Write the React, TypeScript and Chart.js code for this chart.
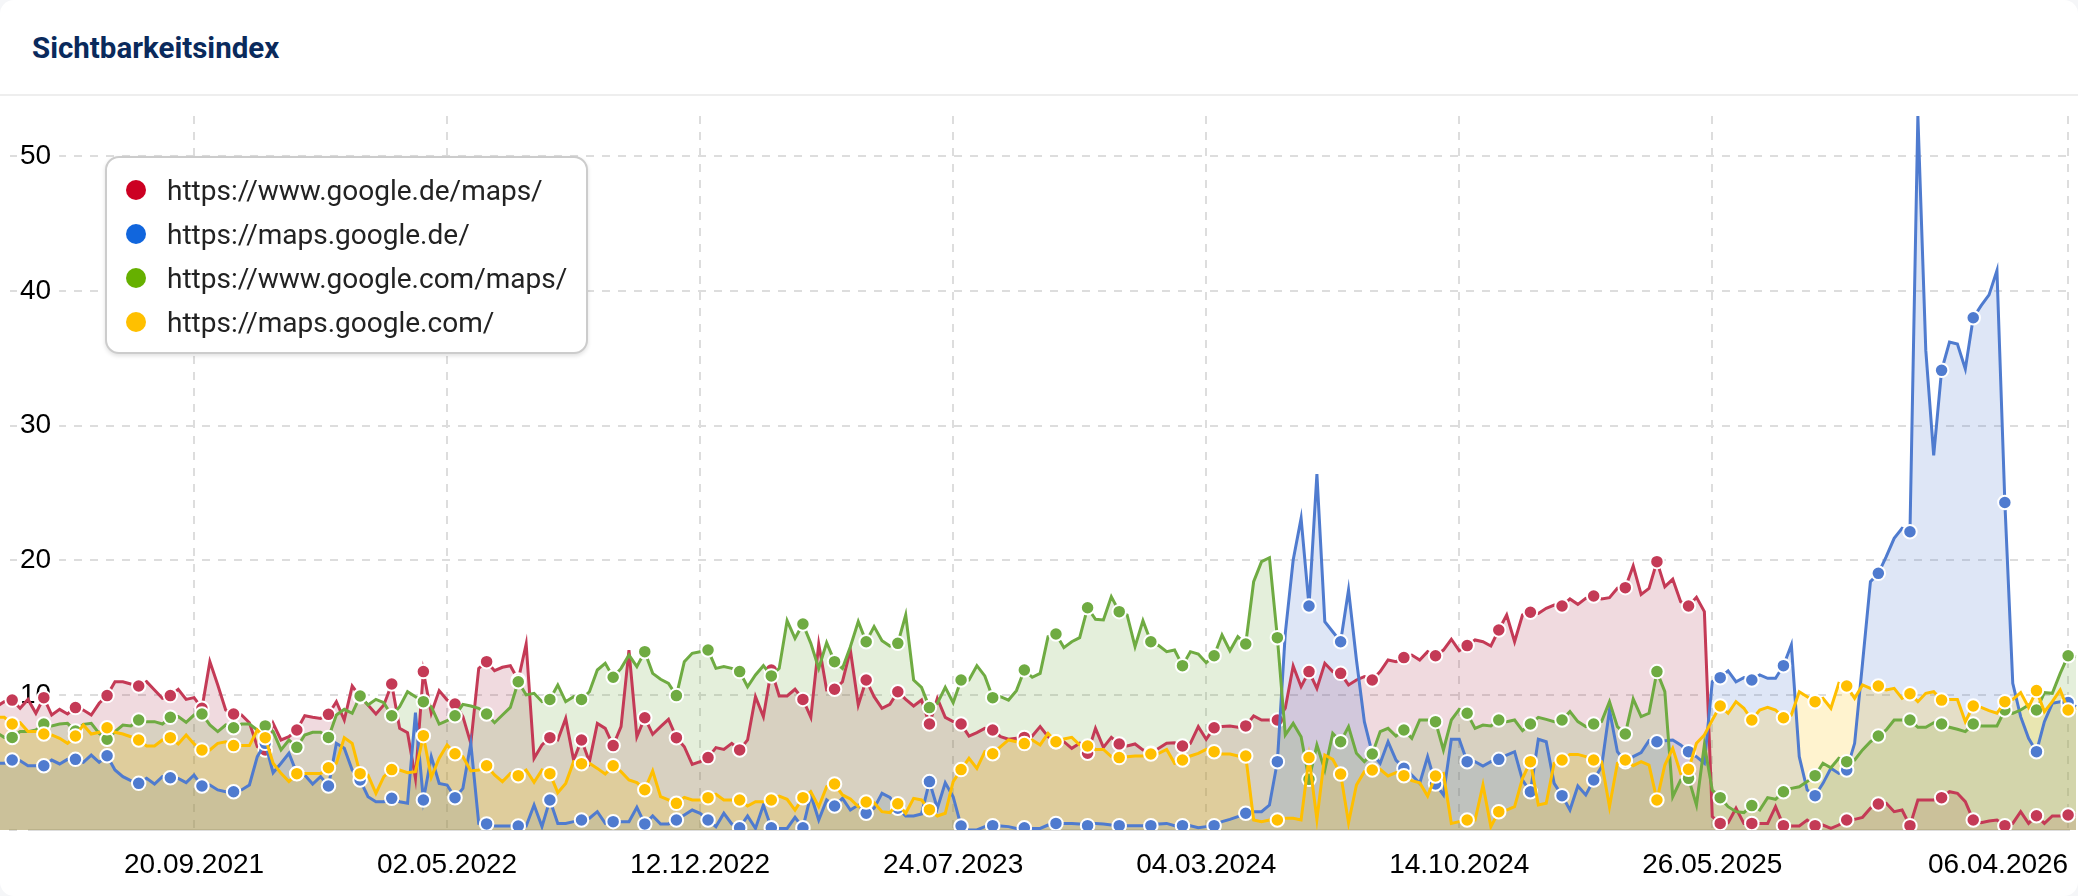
import React, { useEffect, useRef } from "react"
import { Chart, registerables } from "chart.js"

const title = "Sichtbarkeitsindex"
const seriesNames = ["https://www.google.de/maps/", "https://maps.google.de/", "https://www.google.com/maps/", "https://maps.google.com/"]
const legendColors = ["#cc0022", "#1166dd", "#66b000", "#ffc000"]
const lineColors = ["#c43a56", "#4f7bcf", "#6fab42", "#ffbf00"]
const fillColors = ["rgba(180,70,95,0.2)", "rgba(79,123,207,0.19)", "rgba(111,171,66,0.19)", "rgba(255,191,0,0.19)"]

// weeks since the start of the plot, one value a week
const tickWeeks = [25, 57, 89, 121, 153, 185, 217, 262]
const tickLabels = ["20.09.2021", "02.05.2022", "12.12.2022", "24.07.2023", "04.03.2024", "14.10.2024", "26.05.2025", "06.04.2026"]

const googleDeMaps = [
  9.15, 9.52, 9.64, 9.03, 9.69, 8.66, 9.82, 8.53, 8.95, 8.61, 9.08, 8.9, 8.53, 9.4, 9.97, 11, 11, 10.83, 10.68, 11, 10.39, 9.77, 9.97, 10.44, 9.69, 9.82, 9.03, 12.49, 10.76, 8.9, 8.61, 8.53, 7.96, 6.18, 5.94, 7.91, 6.68, 6.92, 7.42, 8.48, 8.36, 8.28, 8.58, 9.52, 8.16, 10.68, 9.89, 9.27, 8.61, 9.27, 10.83, 7.54, 7.22, 3.83, 11.75, 8.66, 10.34, 9.64, 9.35, 8.41, 6.43, 11.99, 12.49, 11.82, 12.07, 12.19,
  11.13, 13.8, 5.32, 6.31, 6.85, 6.68, 8.28, 5.19, 6.68, 5.07, 7.91, 7.54, 6.26, 7.67, 13.35, 6.92, 8.33, 7.1, 7.67, 8.21, 6.85, 6.18, 4.87, 5.07, 5.37, 6.11, 5.98, 6.43, 5.94, 6.68, 9.89, 8.41, 11.87, 9.94, 9.94, 10.44, 9.69, 8.36, 13.8, 10.39, 10.44, 11, 13.35, 9.27, 11.13, 9.89, 9.03, 9.32, 10.26, 9.69, 9.2, 9.64, 7.86, 9.77, 8.36, 8.04, 7.86, 6.97, 7.22, 7.54, 7.42, 6.92, 6.73, 6.8, 6.87, 6.97,
  7.67, 6.92, 6.55, 6.55, 6.06, 6.43, 5.69, 7.54, 6.13, 6.87, 6.38, 6.23, 6.38, 5.94, 5.69, 6.06, 6.43, 6.48, 6.23, 6.43, 7.67, 6.73, 7.59, 7.67, 7.72, 7.62, 7.72, 8.46, 8.16, 8.16, 8.16, 9.03, 12.17, 10.63, 11.75, 10.51, 12.37, 11.75, 11.62, 10.76, 11.13, 11.38, 11.13, 11.75, 12.61, 12.49, 12.79, 12.98, 12.61, 13.23, 12.93, 13.35, 14.15, 13.3, 13.68, 14.1, 13.97, 13.65, 14.84, 15.95, 13.97, 15.95, 16.15, 16.07, 16.45, 16.69,
  16.62, 17.14, 16.74, 17.19, 17.36, 17.14, 17.24, 17.93, 17.98, 19.59, 17.48, 17.93, 19.91, 18.05, 18.6, 16.94, 16.62, 17.26, 16.2, 0.99, 0.49, 0.54, 1.61, 0.49, 0.49, 0.49, 0.49, 1.73, 0.32, 0.3, 0.3, 0.74, 0.32, 0.37, 0.12, 0.37, 0.74, 0.79, 0.94, 1.61, 1.93, 1.98, 1.36, 1.48, 0.32, 2.23, 2.23, 2.23, 2.4, 2.84, 2.72, 2.1, 0.74, 0.54, 0.67, 0.74, 0.32, 0.49, 1.36, 0.49, 1.06, 0.49, 1.04, 1.04, 1.11, 1.11,
]
const mapsGoogleDe = [
  4.95, 4.95, 5.19, 5.14, 4.77, 4.77, 4.77, 5.19, 4.9, 5.24, 5.24, 5.02, 5.56, 5.02, 5.51, 4.45, 3.96, 3.66, 3.46, 3.83, 3.41, 3.96, 3.88, 3.83, 3.51, 4.08, 3.26, 3.34, 2.97, 2.84, 2.84, 2.97, 3.34, 5.44, 6.43, 4.25, 4.95, 5.69, 4.2, 4.08, 3.41, 3.96, 3.26, 6.43, 6.06, 4.45, 3.71, 2.47, 2.1, 2.1, 2.35, 2.1, 1.98, 8.7, 2.23, 5.44, 3.46, 3.34, 2.4, 3.09, 6.43, 0.49, 0.45, 0.3, 0.3, 0.3,
  0.3, 0.3, 1.85, 0.25, 2.23, 0.49, 0.49, 0.62, 0.74, 0.87, 1.36, 0.49, 0.62, 0.62, 0.62, 1.68, 0.45, 1.04, 0.45, 0.45, 0.74, 1.11, 1.48, 1.24, 0.74, 0.25, 1.24, 0.45, 0.17, 1.04, 0.12, 1.85, 0.17, 0.12, 0.12, 0.94, 0.17, 2.6, 0.74, 2.23, 1.78, 2.35, 1.48, 1.85, 1.24, 1.61, 2.72, 2.42, 1.61, 1.04, 1.04, 1.19, 3.59, 1.61, 3.51, 2.47, 0.3, 0, 0, 0.25, 0.32, 0.3, 0.25, 0.12, 0.17, 0.12,
  0.12, 0.37, 0.49, 0.49, 0.49, 0.45, 0.32, 0.49, 0.45, 0.37, 0.32, 0.32, 0.32, 0.32, 0.32, 0.45, 0.49, 0.32, 0.32, 0.32, 0.17, 0.25, 0.32, 0.62, 0.79, 0.99, 1.24, 1.36, 1.36, 1.85, 5.07, 14.59, 20.03, 23.12, 16.62, 26.4, 15.46, 14.71, 13.97, 17.81, 12.61, 8.04, 5.69, 4.95, 6.55, 5.19, 4.58, 4.08, 3.46, 5.44, 3.41, 2.6, 6.73, 6.73, 5.07, 5.07, 4.75, 5.07, 5.24, 5.56, 5.81, 3.71, 2.84, 6.73, 6.55, 3.46,
  2.55, 1.48, 3.26, 2.6, 3.71, 4.7, 8.9, 5.81, 5.07, 5.44, 5.74, 6.63, 6.55, 6.63, 6.68, 6.31, 5.81, 5.44, 4.95, 11, 11.3, 11.8, 11, 11.3, 11.13, 11.5, 11.25, 11.25, 12.19, 13.73, 5.44, 2.97, 2.55, 3.46, 4.58, 4.2, 4.45, 6.43, 12.37, 18.42, 19.04, 20.28, 21.64, 22.38, 22.13, 53, 35.6, 27.8, 34.1, 36.2, 36.05, 34.2, 38, 38.9, 39.7, 41.5, 24.3, 10.88, 8.41, 6.8, 5.81, 8.04, 9.4, 9.52, 9.45, 9.15,
]
const googleComMaps = [
  7.22, 6.87, 6.87, 7.3, 7.3, 7.42, 7.86, 7.72, 7.86, 7.91, 7.34, 7.84, 7.91, 7.17, 6.73, 7.3, 7.79, 7.72, 8.16, 8.04, 8.04, 7.86, 8.36, 8.41, 7.99, 8.53, 8.61, 7.79, 7.3, 7.79, 7.59, 7.86, 7.86, 7.42, 7.72, 7.3, 5.94, 6.68, 6.13, 7.05, 7.25, 7.25, 6.87, 8.53, 8.95, 8.66, 9.94, 9.27, 9.69, 9.45, 8.48, 9.15, 10.26, 9.89, 9.52, 9.15, 7.86, 8.11, 8.48, 9.32, 9.2, 9.03, 8.61, 7.96, 8.53, 9.1,
  11, 10.02, 10.14, 9.52, 9.69, 10.76, 9.52, 9.89, 9.69, 10.26, 11.87, 12.37, 11.33, 11.99, 12.98, 12.12, 13.23, 11.62, 11.18, 10.88, 9.97, 12.49, 13.11, 13.23, 13.35, 11.99, 12.12, 11.99, 11.75, 10.63, 11.5, 12.19, 11.43, 11.99, 15.53, 14.22, 15.28, 13.85, 11.99, 13.9, 12.49, 11.99, 13.6, 15.46, 13.97, 15.09, 14.05, 13.65, 13.85, 15.95, 11.13, 10.58, 9.08, 9.4, 10.58, 9.45, 11.13, 11.13, 12.19, 11.43, 9.82, 9.89, 9.64, 10.34, 11.87, 11.33,
  11.62, 14.34, 14.54, 13.53, 13.97, 14.27, 16.49, 15.63, 15.58, 17.31, 16.2, 15.95, 13.6, 15.53, 13.97, 13.68, 13.23, 13.35, 12.19, 13.23, 13.06, 12.41, 12.93, 14.47, 13.3, 14.34, 13.8, 18.42, 19.91, 20.2, 14.27, 7.05, 7.91, 6.92, 3.76, 6.31, 4.45, 7.17, 6.55, 7.67, 5.69, 5.07, 5.64, 7.3, 7.54, 6.97, 7.42, 6.8, 8.16, 8.16, 8.04, 5.94, 8.16, 8.95, 8.66, 7.54, 7.79, 7.72, 8.16, 8.04, 8.16, 7.37, 7.86, 8.36, 8.21, 8.04,
  8.16, 8.78, 8.04, 7.67, 7.86, 8.04, 9.52, 7.67, 7.12, 9.72, 8.41, 8.66, 11.75, 10.26, 2.47, 3.71, 3.83, 1.85, 6.31, 2.97, 2.4, 1.73, 1.36, 1.29, 1.81, 1.48, 2.4, 2.28, 2.84, 3.09, 3.21, 3.59, 4.03, 4.95, 4.62, 5.32, 5.07, 5.19, 5.94, 6.55, 6.97, 7.42, 8.16, 8.16, 8.16, 7.62, 7.62, 7.96, 7.86, 7.62, 7.47, 7.3, 7.86, 7.72, 7.72, 7.72, 8.9, 8.66, 8.9, 9.27, 8.9, 10.19, 10.14, 11.62, 12.93, 12.86,
]
const mapsGoogleCom = [
  8.36, 8.36, 7.86, 7.96, 7.3, 7.3, 7.12, 7.05, 6.8, 6.43, 6.97, 7.79, 7.12, 7.25, 7.59, 7.25, 7.12, 6.92, 6.68, 6.23, 6.23, 6.68, 6.85, 6.38, 7.05, 6.38, 5.94, 5.94, 6.43, 6.55, 6.26, 6.26, 6.26, 7.42, 6.85, 4.95, 4.2, 3.59, 4.18, 4.2, 4.2, 4.2, 4.62, 4.95, 6.85, 6.43, 4.18, 4.08, 2.72, 3.96, 4.48, 4.45, 4.25, 4.33, 7, 3.91, 5.32, 6.31, 5.66, 5.44, 4.38, 4.45, 4.77, 4.08, 3.59, 4.2,
  4.03, 4.45, 3.54, 4.45, 4.18, 2.77, 3.46, 5.07, 4.92, 4.95, 4.57, 4.15, 4.77, 4.33, 3.71, 3.51, 2.99, 4.38, 2.47, 2.23, 1.98, 2.42, 2.23, 2.23, 2.4, 2.65, 2.23, 2.23, 2.23, 1.78, 2.1, 2.1, 2.23, 2.52, 2.28, 1.48, 2.4, 2.84, 1.73, 3.21, 3.41, 2.6, 2.3, 1.73, 2.08, 2.03, 1.36, 1.29, 1.95, 1.24, 2.35, 2.23, 1.51, 1.04, 1.24, 3.59, 4.48, 5.32, 4.57, 5.81, 5.66, 6.18, 6.68, 6.55, 6.41, 6.68,
  6.31, 7.17, 6.55, 6.75, 6.87, 6.31, 6.23, 5.98, 5.98, 5.44, 5.37, 5.44, 5.49, 5.49, 5.64, 5.69, 5.98, 4.95, 5.19, 5.49, 5.69, 5.98, 5.81, 5.64, 5.64, 5.49, 5.49, 0.74, 0.62, 0.74, 0.74, 0.87, 0.87, 0.74, 5.37, 0.79, 5.56, 5.24, 4.15, 0.54, 3.34, 4.33, 4.45, 4.5, 4.01, 4.25, 4.03, 3.66, 3.51, 2.52, 4.01, 4.2, 0.49, 0.62, 0.74, 0.74, 3.34, 0.25, 1.36, 1.48, 1.73, 3.83, 5.07, 1.85, 1.98, 4.95,
  5.19, 5.61, 5.61, 5.44, 5.19, 5.07, 1.73, 4.95, 5.19, 4.77, 5.07, 4.82, 2.23, 4.82, 6.06, 4.2, 4.5, 6.43, 7.05, 8.16, 9.2, 8.66, 9.52, 9.03, 8.16, 8.9, 9.1, 8.9, 8.33, 8.53, 10.26, 9.89, 9.52, 9.77, 9.03, 10.88, 10.68, 9.77, 10.76, 10.51, 10.68, 10.39, 10.51, 9.77, 10.11, 9.52, 10.14, 10.26, 9.64, 9.69, 9.69, 8.04, 9.2, 9.1, 8.85, 8.66, 9.52, 9.69, 10.19, 9.1, 10.34, 8.78, 9.52, 10.39, 8.9, 9.03,
]
const seriesValues = [googleDeMaps, mapsGoogleDe, googleComMaps, mapsGoogleCom]

// cut the gridlines short of the card edge, keep the last label inside.
// registered before the filler so the fills still go over the white strips
const edgePlugin = {
  id: "edges",
  beforeDraw(chart: any) {
    const x = chart.scales.x
    const items = x.getLabelItems(chart.chartArea)
    const last = items[items.length - 1]
    if (last) last.options.translation[0] = x.getPixelForValue(262) - 70
  },
  beforeDatasetsDraw(chart: any) {
    const { ctx, chartArea } = chart
    ctx.save()
    ctx.fillStyle = "#fff"
    ctx.fillRect(0, chartArea.top - 2, 9, chartArea.height + 4)
    ctx.fillRect(2070, chartArea.top - 2, 8, chartArea.height + 4)
    ctx.restore()
  },
}

Chart.register(edgePlugin)
Chart.register(...registerables)

function VisibilityChart() {
  const ref = useRef<HTMLCanvasElement>(null)

  useEffect(() => {
    if (!ref.current) return
    const chart = new Chart(ref.current, {
      type: "line",
      data: {
        datasets: seriesNames.map((name, s) => ({
          label: name,
          data: seriesValues[s].map((y, i) => ({ x: i, y })),
          order: 3 - s,
          borderColor: lineColors[s],
          backgroundColor: fillColors[s],
          pointBackgroundColor: lineColors[s],
          pointBorderColor: "#fff",
          pointBorderWidth: 2,
          pointRadius: (c: any) => (c.dataIndex % 4 === 2 ? 6.75 : 0),
          borderWidth: 3,
          tension: 0,
          fill: "origin",
        })),
      },
      options: {
        responsive: false,
        animation: false,
        devicePixelRatio: 1,
        layout: { padding: { top: 20, left: 0, right: 0, bottom: 0 } },
        plugins: {
          legend: { display: false },
          tooltip: { enabled: false },
          filler: { drawTime: "beforeDatasetsDraw" },
        },
        scales: {
          x: {
            type: "linear",
            min: 0.46,
            max: 263.25,
            afterBuildTicks: (axis: any) => {
              axis.ticks = tickWeeks.map((value) => ({ value }))
            },
            afterFit: (axis: any) => {
              axis.height = 66
              axis.paddingLeft = 0
              axis.paddingRight = 0
            },
            ticks: {
              autoSkip: false,
              maxRotation: 0,
              padding: 18,
              color: "#000",
              font: { family: "Liberation Sans", size: 28 },
              callback: (v: any) => tickLabels[tickWeeks.indexOf(v)],
            },
            grid: { color: "#dddddd", lineWidth: 2, drawTicks: false },
            border: { display: true, color: "#dddddd", width: 2, dash: [8, 8] },
          },
          y: {
            min: 0,
            max: 52.97,
            afterFit: (axis: any) => {
              axis.width = 0
              axis.paddingTop = 0
              axis.paddingBottom = 0
            },
            ticks: {
              stepSize: 10,
              includeBounds: false,
              mirror: true,
              padding: 20,
              color: "#000",
              font: { family: "Liberation Sans", size: 28 },
              showLabelBackdrop: true,
              backdropColor: "#fff",
              backdropPadding: { left: 3, right: 8, top: 0, bottom: 0 },
              callback: (v: any) => (v === 0 ? "" : String(v)),
            },
            grid: { color: "#dddddd", lineWidth: 2, drawTicks: false },
            border: { display: false, dash: [8, 8], dashOffset: 6 },
          },
        },
      },
    })
    return () => {
      chart.destroy()
    }
  }, [])

  return <canvas ref={ref} width={2078} height={800} style={{ display: "block", position: "absolute", left: 0, top: 96 }} />
}

export default function App() {
  return (
    <div style={{ position: "absolute", left: 0, top: 0, width: 2078, height: 896, overflow: "hidden", background: "#f5f6f8" }}>
      <div style={{ position: "absolute", inset: 0, background: "#fff", borderRadius: 14 }}>
        <div style={{ position: "absolute", left: 32, top: 30, fontFamily: "Roboto", fontWeight: 700, fontSize: 29.5, lineHeight: "36px", color: "#0a2a5c" }}>{title}</div>
        <div style={{ position: "absolute", left: 0, top: 94, width: 2078, height: 2, background: "#eeeeee" }} />
        <VisibilityChart />
        <div
          style={{
            position: "absolute",
            left: 105,
            top: 156,
            width: 483,
            height: 198,
            boxSizing: "border-box",
            background: "#fff",
            border: "2px solid #cccccc",
            borderRadius: 14,
            boxShadow: "0 2px 4px rgba(0,0,0,0.12)",
          }}
        >
          {seriesNames.map((name, s) => (
            <div key={name} style={{ position: "absolute", left: 0, top: 10 + s * 44, height: 44, width: "100%", display: "flex", alignItems: "center" }}>
              <span style={{ position: "absolute", left: 19, width: 20, height: 20, borderRadius: 10, background: legendColors[s] }} />
              <span style={{ position: "absolute", left: 60, fontFamily: "Roboto", fontSize: 28, color: "#222", whiteSpace: "nowrap" }}>{name}</span>
            </div>
          ))}
        </div>
      </div>
    </div>
  )
}
